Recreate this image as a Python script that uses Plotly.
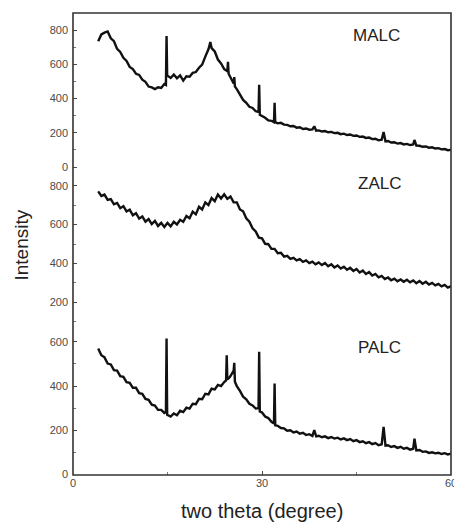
import plotly.graph_objects as go

# ---------------- data ----------------
malc_x = [4.0, 4.5, 5.0, 5.5, 6.0, 6.5, 7.0, 7.5, 8.0, 8.5,
          9.0, 9.5, 10.0, 10.5, 11.0, 11.5, 12.0, 12.5, 13.0, 13.5,
          14.0, 14.5, 14.75, 14.85, 14.95, 15.5, 16.0, 16.5, 17.0, 17.5,
          18.0, 18.5, 19.0, 19.5, 20.0, 20.5, 21.0, 21.5, 21.8, 22.0,
          22.5, 23.0, 23.5, 24.0, 24.5, 24.6, 24.7, 25.0, 25.5, 25.6,
          25.7, 26.0, 26.5, 27.0, 27.5, 28.0, 28.5, 29.0, 29.45, 29.55,
          29.65, 30.0, 30.5, 31.0, 31.5, 31.9, 32.0, 32.1, 32.5, 33.0,
          33.5, 34.0, 34.5, 35.0, 35.5, 36.0, 36.5, 37.0, 37.5, 38.0,
          38.3, 38.6, 39.0, 39.5, 40.0, 40.5, 41.0, 41.5, 42.0, 42.5,
          43.0, 43.5, 44.0, 44.5, 45.0, 45.5, 46.0, 46.5, 47.0, 47.5,
          48.0, 48.5, 49.0, 49.3, 49.6, 50.0, 50.5, 51.0, 51.5, 52.0,
          52.5, 53.0, 53.5, 54.0, 54.2, 54.5, 55.0, 55.5, 56.0, 56.5,
          57.0, 57.5, 58.0, 58.5, 59.0, 59.5, 60.0]
malc_y = [735, 775, 785, 792, 752, 735, 690, 672, 638, 620,
          585, 572, 545, 538, 510, 498, 470, 465, 455, 466,
          462, 485, 480, 765, 535, 520, 540, 518, 535, 505,
          530, 528, 550, 555, 580, 598, 645, 688, 730, 695,
          675, 628, 605, 572, 560, 615, 545, 520, 488, 525,
          470, 455, 425, 392, 375, 352, 345, 326, 322, 480,
          305, 298, 288, 272, 270, 262, 375, 262, 255, 258,
          248, 246, 238, 240, 230, 232, 222, 225, 218, 220,
          238, 212, 214, 208, 210, 203, 205, 198, 200, 192,
          195, 187, 190, 182, 184, 176, 178, 170, 172, 163,
          165, 156, 160, 205, 150, 152, 143, 145, 137, 140,
          132, 135, 128, 132, 158, 125, 124, 118, 120, 113,
          115, 108, 110, 103, 105, 98, 100]

zalc_x = [4.0, 4.5, 5.0, 5.5, 6.0, 6.5, 7.0, 7.5, 8.0, 8.5,
          9.0, 9.5, 10.0, 10.5, 11.0, 11.5, 12.0, 12.5, 13.0, 13.5,
          14.0, 14.5, 15.0, 15.5, 16.0, 16.5, 17.0, 17.5, 18.0, 18.5,
          19.0, 19.5, 20.0, 20.5, 21.0, 21.5, 22.0, 22.5, 23.0, 23.5,
          24.0, 24.5, 25.0, 25.5, 26.0, 26.5, 27.0, 27.5, 28.0, 28.5,
          29.0, 29.5, 30.0, 30.5, 31.0, 31.5, 32.0, 32.5, 33.0, 33.5,
          34.0, 34.5, 35.0, 35.5, 36.0, 36.5, 37.0, 37.5, 38.0, 38.5,
          39.0, 39.5, 40.0, 40.5, 41.0, 41.5, 42.0, 42.5, 43.0, 43.5,
          44.0, 44.5, 45.0, 45.5, 46.0, 46.5, 47.0, 47.5, 48.0, 48.5,
          49.0, 49.5, 50.0, 50.5, 51.0, 51.5, 52.0, 52.5, 53.0, 53.5,
          54.0, 54.5, 55.0, 55.5, 56.0, 56.5, 57.0, 57.5, 58.0, 58.5,
          59.0, 59.5, 60.0]
zalc_y = [772, 748, 755, 728, 732, 705, 712, 685, 695, 668,
          677, 648, 659, 631, 642, 615, 629, 603, 619, 593,
          609, 588, 609, 591, 615, 601, 625, 615, 645, 633,
          667, 653, 692, 678, 715, 701, 737, 721, 755, 735,
          757, 733, 745, 715, 715, 678, 669, 633, 615, 581,
          565, 533, 529, 501, 499, 475, 475, 453, 455, 435,
          439, 423, 429, 415, 422, 408, 415, 401, 409, 395,
          405, 391, 402, 385, 395, 379, 389, 373, 383, 367,
          377, 361, 371, 353, 363, 345, 355, 337, 345, 328,
          335, 319, 327, 313, 321, 308, 317, 305, 315, 302,
          312, 298, 309, 295, 305, 291, 299, 286, 294, 281,
          289, 275, 282]

palc_x = [4.0, 4.5, 5.0, 5.5, 6.0, 6.5, 7.0, 7.5, 8.0, 8.5,
          9.0, 9.5, 10.0, 10.5, 11.0, 11.5, 12.0, 12.5, 13.0, 13.5,
          14.0, 14.5, 14.75, 14.85, 14.95, 15.5, 16.0, 16.5, 17.0, 17.5,
          18.0, 18.5, 19.0, 19.5, 20.0, 20.5, 21.0, 21.5, 22.0, 22.5,
          23.0, 23.5, 24.0, 24.3, 24.4, 24.5, 24.8, 25.0, 25.5, 25.6,
          25.7, 26.0, 26.5, 27.0, 27.5, 28.0, 28.5, 29.0, 29.45, 29.55,
          29.65, 30.0, 30.5, 31.0, 31.5, 31.9, 32.0, 32.1, 32.5, 33.0,
          33.5, 34.0, 34.5, 35.0, 35.5, 36.0, 36.5, 37.0, 37.5, 38.0,
          38.3, 38.6, 39.0, 39.5, 40.0, 40.5, 41.0, 41.5, 42.0, 42.5,
          43.0, 43.5, 44.0, 44.5, 45.0, 45.5, 46.0, 46.5, 47.0, 47.5,
          48.0, 48.5, 49.0, 49.3, 49.6, 50.0, 50.5, 51.0, 51.5, 52.0,
          52.5, 53.0, 53.5, 54.0, 54.2, 54.5, 55.0, 55.5, 56.0, 56.5,
          57.0, 57.5, 58.0, 58.5, 59.0, 59.5, 60.0]
palc_y = [570, 540, 530, 502, 498, 472, 470, 445, 442, 418,
          415, 392, 392, 368, 365, 342, 338, 316, 312, 292,
          292, 278, 282, 615, 270, 262, 276, 268, 288, 282,
          302, 298, 320, 318, 342, 340, 365, 362, 388, 385,
          405, 400, 418, 425, 540, 430, 438, 445, 470, 505,
          420, 400, 378, 352, 340, 320, 312, 298, 300, 555,
          285, 280, 262, 255, 238, 230, 412, 222, 220, 210,
          208, 198, 200, 190, 194, 184, 188, 178, 182, 174,
          200, 172, 175, 168, 172, 164, 169, 162, 166, 158,
          163, 155, 160, 150, 155, 146, 150, 141, 146, 137,
          142, 132, 136, 215, 130, 132, 124, 128, 120, 125,
          116, 120, 112, 116, 162, 108, 110, 102, 104, 97,
          100, 95, 98, 92, 96, 90, 94]

sample_names = ["MALC", "ZALC", "PALC"]
x_ticks = [0, 30, 60]

assert len(malc_x) == len(malc_y)
assert len(zalc_x) == len(zalc_y)
assert len(palc_x) == len(palc_y)

# ---------------- figure ----------------
# The page body has an 8px margin, so the figure is 8px smaller than the window
# and the margins are reduced accordingly.
LINE = dict(color="#111111", width=2.4)
fig = go.Figure()
fig.add_trace(go.Scatter(x=malc_x, y=malc_y, mode="lines", line=LINE, xaxis="x", yaxis="y"))
fig.add_trace(go.Scatter(x=zalc_x, y=zalc_y, mode="lines", line=LINE, xaxis="x", yaxis="y2"))
fig.add_trace(go.Scatter(x=palc_x, y=palc_y, mode="lines", line=LINE, xaxis="x", yaxis="y3"))

TICKFONT = dict(family="Liberation Sans, Arial, sans-serif", size=11, color="#4a4a4a")

def yax(domain, rng):
    return dict(domain=domain, range=rng, anchor="x", showgrid=False, zeroline=False,
                showline=False, ticks="inside", ticklen=4, tickcolor="#4a4a4a", tickwidth=1.2,
                dtick=200, tick0=0, tickfont=TICKFONT, ticklabelstandoff=4,
                minor=dict(ticks="inside", ticklen=2.5, dtick=100, tick0=0, tickcolor="#777777"))

b1 = (475 - 330) / 462
b2 = (475 - 170) / 462

fig.update_layout(
    width=454, height=516,
    margin=dict(l=65, r=7, t=5, b=49),
    paper_bgcolor="white", plot_bgcolor="white",
    showlegend=False,
    xaxis=dict(domain=[0, 1], range=[0, 60], anchor="y3", showgrid=False, zeroline=False,
               showline=False, ticks="inside", ticklen=4, tickcolor="#4a4a4a", tickwidth=1.2,
               tickvals=x_ticks, ticktext=[str(v) for v in x_ticks], tickfont=TICKFONT,
               minor=dict(ticks="inside", ticklen=3, tickvals=[15, 45], tickcolor="#777777")),
    yaxis=yax([b2, 1], [-17.5, 900]),
    yaxis2=yax([b1, b2], [56, 882]),
    yaxis3=yax([0, b1], [-3, 654]),
)

fig.add_shape(type="rect", xref="paper", yref="paper", x0=0, x1=1, y0=0, y1=1,
              line=dict(color="#333333", width=1.6), layer="above")

LABELFONT = dict(family="Liberation Sans, Arial, sans-serif", size=17, color="#222222")
label_pos = [(380, 35), (383, 183), (383, 348)]
for name, (px, py) in zip(sample_names, label_pos):
    fig.add_annotation(text=name, xref="paper", yref="paper",
                       x=(px - 73) / 382, y=(475 - py) / 462,
                       xanchor="center", yanchor="middle", showarrow=False, font=LABELFONT)

TITLEFONT = dict(family="Liberation Sans, Arial, sans-serif", size=20, color="#222222")
fig.add_annotation(text="two theta (degree)", xref="paper", yref="paper",
                   x=0.5, y=(475 - 511) / 462, xanchor="center", yanchor="middle",
                   showarrow=False, font=TITLEFONT)
fig.add_annotation(text="Intensity", xref="paper", yref="paper",
                   x=(20 - 73) / 382, y=(475 - 245) / 462, xanchor="center", yanchor="middle",
                   textangle=-90, showarrow=False, font=dict(TITLEFONT, size=19))

fig.write_html("out.html")
